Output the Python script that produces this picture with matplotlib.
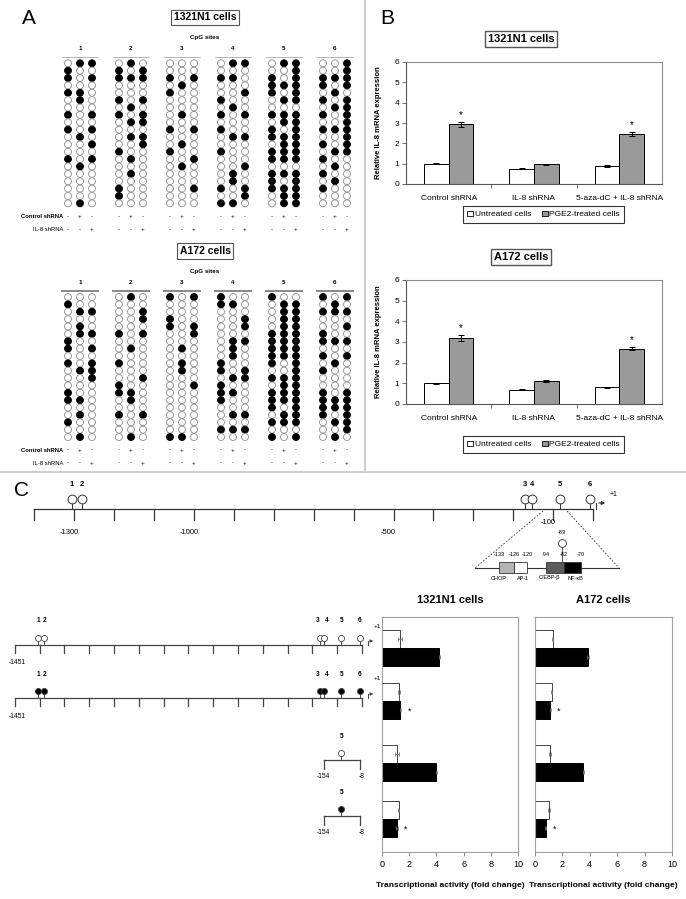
import numpy as np
import matplotlib.pyplot as plt
from matplotlib.patches import Rectangle, Patch

plt.rcParams['font.family'] = ['Liberation Sans', 'DejaVu Sans']

W, H = 686, 899

# ---------------- panel A: bisulfite sequencing (methylated clone rows per column)
n_rows = 20
meth_1321 = [
    [[1, 2, 4, 7, 9, 13], [0, 4, 5, 10, 14, 19], [0, 2, 7, 9, 11, 13]],
    [[1, 2, 5, 7, 12, 17, 18], [0, 2, 6, 8, 10, 13, 15], [1, 2, 5, 7, 8, 10, 11]],
    [[2, 4, 9, 12], [3, 7, 11, 14], [2, 9, 13, 17]],
    [[2, 5, 7, 9, 12, 17, 19], [0, 2, 6, 10, 15, 16, 19], [0, 4, 7, 10, 14, 17, 18]],
    [[2, 3, 4, 7, 9, 10, 12, 13, 15, 16, 17],
     [0, 3, 5, 7, 8, 10, 11, 12, 13, 15, 17, 18, 19],
     [0, 1, 2, 3, 4, 5, 7, 8, 9, 10, 11, 12, 13, 15, 16, 17, 18, 19]],
    [[2, 3, 5, 7, 9, 11, 13, 15, 17], [2, 4, 6, 9, 12, 14, 16],
     [0, 1, 2, 3, 5, 6, 7, 8, 9, 10, 11, 12]],
]
meth_a172 = [
    [[1, 6, 7, 9, 13, 14, 17], [2, 4, 5, 10, 14, 16, 19], [2, 5, 7, 9, 10, 11]],
    [[5, 9, 12, 13, 16], [0, 7, 13, 14, 19], [2, 3, 5, 11, 16]],
    [[0, 3, 4, 19], [7, 9, 10, 19], [0, 4, 5, 12]],
    [[0, 1, 9, 10, 12, 13, 14, 18], [1, 6, 7, 8, 11, 13, 16, 18], [3, 4, 6, 10, 11, 16, 18]],
    [[0, 5, 6, 7, 8, 9, 11, 13, 14, 15, 17, 19],
     [1, 2, 3, 4, 5, 6, 7, 8, 11, 12, 13, 14, 16, 17],
     [1, 2, 3, 4, 5, 6, 7, 8, 9, 10, 11, 12, 13, 14, 15, 16, 17, 19]],
    [[0, 2, 5, 6, 8, 10, 13, 14, 15, 16], [1, 2, 6, 9, 14, 15, 17, 19],
     [0, 2, 4, 6, 8, 13, 14, 15, 16, 17, 18]],
]
ctrl_signs = ["-", "+", "-"]
il8_signs = ["-", "-", "+"]

# ---------------- panel B: IL-8 mRNA
b_cats = ["Control shRNA", "IL-8 shRNA", "5-aza-dC + IL-8 shRNA"]
b_1321_untr = [1.00, 0.75, 0.88]
b_1321_untr_err = [0.03, 0.03, 0.04]
b_1321_pge = [2.93, 0.97, 2.45]
b_1321_pge_err = [0.13, 0.03, 0.10]
b_a172_untr = [1.00, 0.70, 0.80]
b_a172_untr_err = [0.02, 0.02, 0.02]
b_a172_pge = [3.20, 1.10, 2.68]
b_a172_pge_err = [0.13, 0.04, 0.08]
b_sig = [True, False, True]

# ---------------- panel C: promoter map and reporter assays
cpg_names = ["1", "2", "3", "4", "5", "6"]
cpg_bp = [-1306, -1281, -170, -152, -83, -8]
map_ticks = np.arange(-1400, 1, 100)
map_labelled = [-1300, -1000, -500, -100]
tf_names = ["CHOP", "AP-1", "C/EBP-\u03b2", "NF-\u03baB"]
tf_start = [-133, -126, -94, -82]
tf_end = [-126, -120, -82, -70]
tf_colors = ["#b4b4b4", "white", "#5a5a5a", "black"]
tf_label_dx = [-8, 3, -5, 3]
tf_marks = [-133, -126, -120, -94, -82, -70]

construct_full = [True, True, False, False]
construct_meth = [False, True, False, True]
c_1321_untr = [1.30, 1.25, 1.10, 1.22]
c_1321_untr_err = [0.15, 0.05, 0.15, 0.05]
c_1321_pge = [4.22, 1.35, 4.00, 1.08]
c_1321_pge_err = [0.06, 0.05, 0.06, 0.06]
c_a172_untr = [1.29, 1.22, 1.10, 1.02]
c_a172_untr_err = [0.05, 0.05, 0.06, 0.04]
c_a172_pge = [3.90, 1.10, 3.54, 0.78]
c_a172_pge_err = [0.07, 0.04, 0.07, 0.04]
c_sig = [False, True, False, True]

fig = plt.figure(figsize=(W / 100, H / 100), dpi=100)
ov = fig.add_axes([0, 0, 1, 1])
ov.set_xlim(0, W)
ov.set_ylim(H, 0)
ov.axis("off")


def px_axes(x0, y0, x1, y1):
    return fig.add_axes([x0 / W, 1 - y1 / H, (x1 - x0) / W, (y1 - y0) / H])


def boxed(x, y, s, size=8, lw=0.9):
    ov.text(x, y, s, ha="center", va="center", fontsize=size, fontweight="bold",
            bbox=dict(boxstyle="square,pad=0.25", fc="white", ec="#555555", lw=lw))


# dividers and panel letters
ov.plot([0, W], [472, 472], color="#c8c8c8", lw=1.3)
ov.plot([365, 365], [0, 472], color="#c8c8c8", lw=1.3)
ov.text(22, 18, "A", fontsize=15, va="center")
ov.text(380, 18, "B", fontsize=15, va="center")
ov.text(14, 490, "C", fontsize=15, va="center")

# ---------------- panel A drawing
gx0, gdx, cdx, rdy = 80, 51, 12, 7.37


def dot_panel(cell, title, y0, line_w, line_c):
    boxed(205, y0 - 46, title, size=7.5, lw=0.8)
    ov.text(205, y0 - 26, "CpG sites", ha="center", va="center", fontsize=4.5, fontweight="bold")
    rows = np.arange(n_rows)
    for g, group in enumerate(cell):
        xc = gx0 + g * gdx
        ov.text(xc, y0 - 15, str(g + 1), ha="center", va="center", fontsize=4.5, fontweight="bold")
        ov.plot([xc - 18, xc + 18], [y0 - 6, y0 - 6], color=line_c, lw=line_w)
        for c, filled in enumerate(group):
            x = xc + (c - 1) * cdx
            meth = np.isin(rows, filled)
            ov.scatter(np.full(n_rows, x), y0 + rows * rdy, s=25,
                       c=np.where(meth, "black", "white"),
                       edgecolors=np.where(meth, "black", "#8a8a8a"), linewidths=0.6, zorder=3)
            yl = y0 + (n_rows - 1) * rdy
            ov.text(x, yl + 13, ctrl_signs[c], ha="center", va="center", fontsize=4.5)
            ov.text(x, yl + 26, il8_signs[c], ha="center", va="center", fontsize=4.5)
    yl = y0 + (n_rows - 1) * rdy
    ov.text(63, yl + 13, "Control shRNA", ha="right", va="center", fontsize=4.2, fontweight="bold")
    ov.text(63, yl + 26, "IL-8 shRNA", ha="right", va="center", fontsize=4.2)


dot_panel(meth_1321, "1321N1 cells", 63.3, 0.5, "#999999")
dot_panel(meth_a172, "A172 cells", 297, 1.4, "#888888")


# ---------------- panel B drawing
def mrna_chart(box, untr, untr_err, pge, pge_err, title, title_y, leg_y):
    ax = px_axes(*box)
    x = np.arange(len(b_cats))
    w = 0.29
    ek = dict(ecolor="black", elinewidth=0.7, capsize=2, capthick=0.7)
    ax.bar(x - w / 2, untr, w, yerr=untr_err, color="white", edgecolor="black", lw=0.7, error_kw=ek)
    ax.bar(x + w / 2, pge, w, yerr=pge_err, color="#9a9a9a", edgecolor="black", lw=0.7, error_kw=ek)
    for xi, v, e, s in zip(x, pge, pge_err, b_sig):
        if s:
            ax.text(xi + w / 2, v + e + 0.35, "*", ha="center", va="center", fontsize=7)
    ax.set_xlim(-0.5, 2.5)
    ax.set_ylim(0, 6)
    ax.set_yticks(range(7))
    ax.set_xticks(x)
    ax.set_xticklabels(b_cats)
    ax.set_xticks([0.5, 1.5], minor=True)
    ax.tick_params(axis="x", which="major", length=0, labelsize=6, pad=8)
    ax.tick_params(axis="x", which="minor", length=3, width=0.6, color="#555555")
    ax.tick_params(axis="y", length=3, width=0.6, labelsize=6, pad=2, color="#555555")
    for sp in ax.spines.values():
        sp.set_color("#8c8c8c")
        sp.set_linewidth(0.8)
    ax.spines["bottom"].set_color("#555555")
    ax.spines["left"].set_color("#555555")
    ax.set_ylabel("Relative IL-8 mRNA expression", fontsize=5.5, fontweight="bold")
    ax.yaxis.set_label_coords(-0.094, 0.5)
    leg = ax.legend([Patch(fc="white", ec="black", lw=0.6), Patch(fc="#9a9a9a", ec="black", lw=0.6)],
                    ["Untreated cells", "PGE2-treated cells"], ncol=2, loc="center",
                    bbox_to_anchor=(0.537, leg_y), fontsize=6, fancybox=False,
                    handlelength=0.7, handleheight=0.7, handletextpad=0.2, columnspacing=1.3,
                    borderpad=0.5)
    leg.get_frame().set_edgecolor("black")
    leg.get_frame().set_linewidth(0.8)
    boxed(521, title_y, title, size=8, lw=1.0)


mrna_chart((406, 62, 662, 184), b_1321_untr, b_1321_untr_err, b_1321_pge, b_1321_pge_err,
           "1321N1 cells", 39, -0.25)
mrna_chart((406, 280, 662, 404), b_a172_untr, b_a172_untr_err, b_a172_pge, b_a172_pge_err,
           "A172 cells", 257, -0.327)


# ---------------- panel C: promoter map
def map_x(bp):
    return 593 + 0.399 * np.asarray(bp, dtype=float)


my = 509
ink = "#333333"
ov.plot([map_x(-1400), map_x(0)], [my, my], color=ink, lw=0.9)
for t in map_ticks:
    ov.plot([map_x(t)] * 2, [my, my + 11], color=ink, lw=0.9)
for t in map_labelled:
    ty = 523 if t == -100 else 533
    ov.text(map_x(t) - 5, ty, str(t), ha="center", va="center", fontsize=5.5)
for name, bp in zip(cpg_names, cpg_bp):
    ov.plot([map_x(bp)] * 2, [503, my], color=ink, lw=0.7)
    ov.text(map_x(bp), 484, name, ha="center", va="center", fontsize=5.5, fontweight="bold")
ov.scatter(map_x(cpg_bp), [499] * len(cpg_bp), s=40, facecolor="white", edgecolor=ink, lw=0.7, zorder=4)
ov.plot([map_x(0) + 3, map_x(0) + 3], [my, 503], color=ink, lw=0.8)
ov.annotate("", xy=(map_x(0) + 15, 503), xytext=(map_x(0) + 3, 503),
            arrowprops=dict(arrowstyle="-|>", lw=0.8, color=ink, mutation_scale=5))
ov.text(map_x(0) + 17, 494, "+1", fontsize=5, va="center")


# zoomed proximal region
def inset_x(bp):
    return np.interp(bp, [-133, -120, -94, -70], [499, 527, 546, 581])


iy = 568
ov.plot([map_x(-125), 475], [my + 2, iy], color=ink, lw=0.6, ls=(0, (2, 2)))
ov.plot([map_x(-65), 619], [my + 2, iy], color=ink, lw=0.6, ls=(0, (2, 2)))
ov.plot([475, 619], [iy, iy], color=ink, lw=0.8)
for s, e, col in zip(tf_start, tf_end, tf_colors):
    ov.add_patch(Rectangle((inset_x(s), iy - 6), inset_x(e) - inset_x(s), 11,
                           fc=col, ec=ink, lw=0.6, zorder=3))
for name, s, e, dx in zip(tf_names, tf_start, tf_end, tf_label_dx):
    ov.text((inset_x(s) + inset_x(e)) / 2 + dx, iy + 10, name, ha="center", va="center", fontsize=4)
for m in tf_marks:
    ov.text(inset_x(m), iy - 13, str(m), ha="center", va="center", fontsize=4)
ov.plot([inset_x(-83)] * 2, [547, iy - 6], color=ink, lw=0.6)
ov.scatter([inset_x(-83)], [543], s=32, facecolor="white", edgecolor=ink, lw=0.6, zorder=4)
ov.text(inset_x(-83), 533, "-83", ha="center", va="center", fontsize=4)


# ---------------- panel C: reporter constructs
def cx(bp):
    return 362 + 0.248 * np.asarray(bp, dtype=float)


construct_y = [645, 698, 760, 816]
for y, full, meth in zip(construct_y, construct_full, construct_meth):
    fc = "black" if meth else "white"
    if full:
        ov.plot([cx(-1400), cx(0)], [y, y], color="#444444", lw=0.9)
        for t in map_ticks:
            ov.plot([cx(t)] * 2, [y, y + 8], color="#444444", lw=0.9)
        ov.text(cx(-1400) + 2, y + 18, "-1451", ha="center", va="center", fontsize=4.8)
        sites = range(len(cpg_bp))
        ov.plot([cx(0) + 6] * 2, [y, y - 4], color="#444444", lw=0.7)
        ov.annotate("", xy=(cx(0) + 14, y - 4), xytext=(cx(0) + 6, y - 4),
                    arrowprops=dict(arrowstyle="-|>", lw=0.7, color="#444444", mutation_scale=4))
        ov.text(cx(0) + 12, y - 19, "+1", fontsize=4.5, va="center")
    else:
        ov.plot([cx(-154), cx(-8)], [y, y], color="#444444", lw=0.9)
        for t in [-154, -8]:
            ov.plot([cx(t)] * 2, [y, y + 9], color="#444444", lw=0.9)
        ov.text(cx(-154), y + 17, "-154", ha="center", va="center", fontsize=4.8)
        ov.text(cx(-8) + 2, y + 17, "-8", ha="center", va="center", fontsize=4.8)
        sites = [4]
    for i in sites:
        ov.plot([cx(cpg_bp[i])] * 2, [y - 5, y], color="#444444", lw=0.7)
        ov.scatter([cx(cpg_bp[i])], [y - 7], s=19, facecolor=fc, edgecolor="#444444", lw=0.6, zorder=4)
        ox = {2: -2, 3: 2}.get(i, 0)
        ov.text(cx(cpg_bp[i]) + ox, y - 24, cpg_names[i], ha="center", va="center",
                fontsize=4.8, fontweight="bold")


def activity_chart(box, untr, untr_err, pge, pge_err, title):
    ax = px_axes(*box)
    yb = np.array(construct_y) + 3
    h = 18
    ax.barh(yb - h / 2, untr, h, xerr=untr_err, color="white", edgecolor="#444444", lw=0.7,
            error_kw=dict(ecolor="#777777", elinewidth=0.6, capsize=1.2, capthick=0.6))
    ax.barh(yb + h / 2, pge, h, xerr=pge_err, color="black", edgecolor="black", lw=0.7,
            error_kw=dict(ecolor="#777777", elinewidth=0.6, capsize=1.2, capthick=0.6))
    for y, v, s in zip(yb + h / 2, pge, c_sig):
        if s:
            ax.text(v + 0.65, y + 1, "*", ha="center", va="center", fontsize=6.5)
    ax.set_xlim(0, 10)
    ax.set_ylim(852, 617)
    ax.set_xticks(range(0, 11, 2))
    ax.tick_params(axis="y", left=False, labelleft=False)
    ax.tick_params(axis="x", length=3, width=0.6, color="#777777", labelsize=6.5, pad=3)
    for sp in ax.spines.values():
        sp.set_color("#a0a0a0")
        sp.set_linewidth(0.8)
    ax.set_xlabel("Transcriptional activity (fold change)", fontsize=6, fontweight="bold", labelpad=9)
    ov.text((box[0] + box[2]) / 2, 600, title, ha="center", va="center", fontsize=8, fontweight="bold")


activity_chart((382, 617, 518, 852), c_1321_untr, c_1321_untr_err, c_1321_pge, c_1321_pge_err,
               "1321N1 cells")
activity_chart((535, 617, 672, 852), c_a172_untr, c_a172_untr_err, c_a172_pge, c_a172_pge_err,
               "A172 cells")

fig.savefig("out.png", dpi=100)
